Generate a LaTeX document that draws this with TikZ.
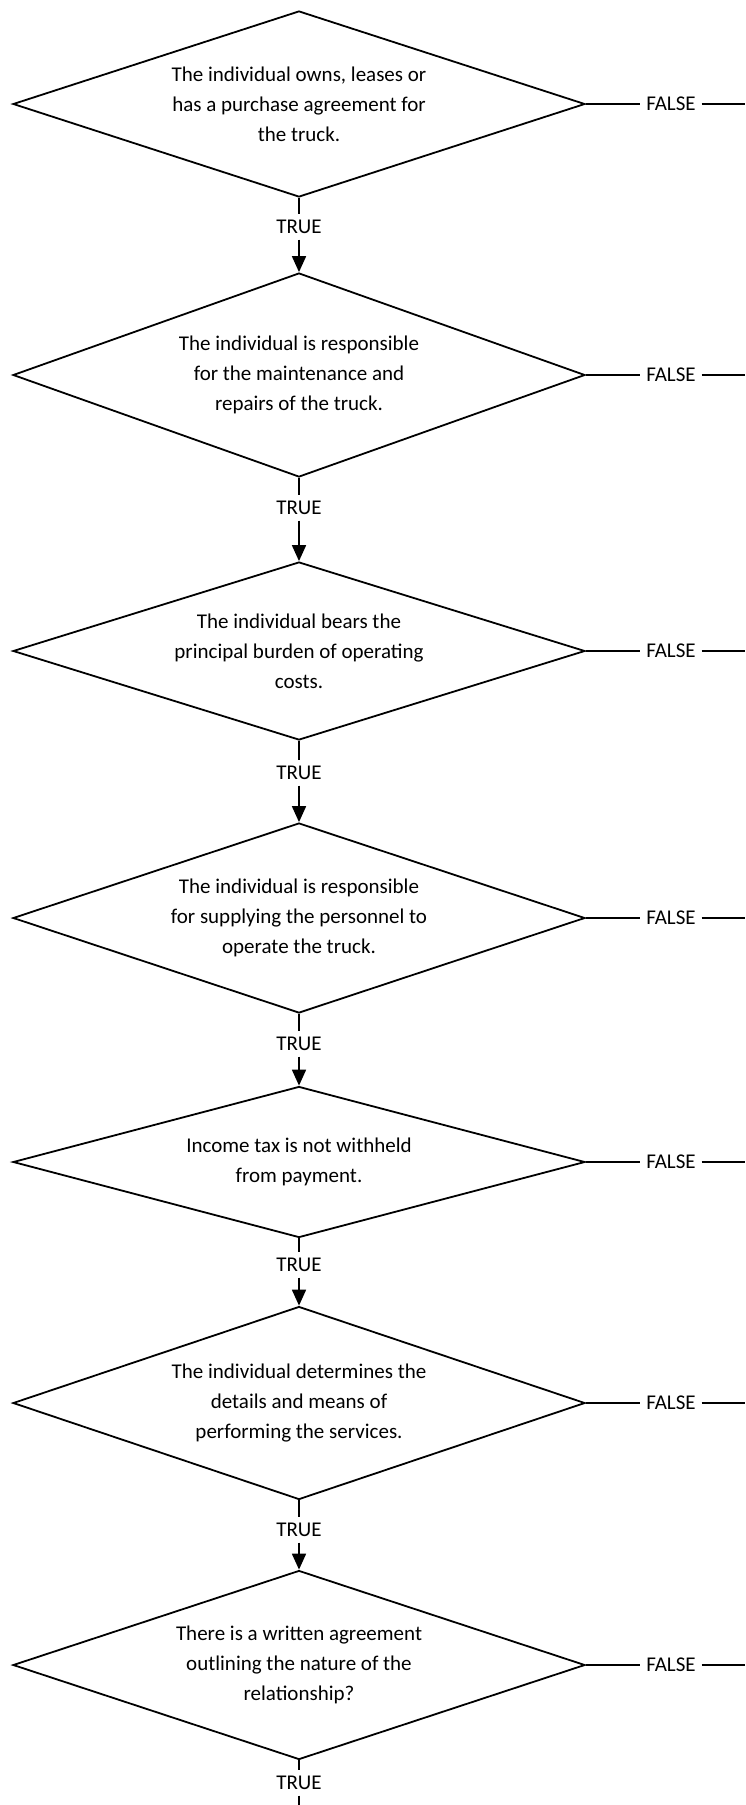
\documentclass[tikz,border=0pt]{standalone}
\usepackage{fontspec}
\setmainfont{Carlito}
\usetikzlibrary{shapes.geometric,arrows.meta}
\begin{document}
\begin{tikzpicture}[x=0.5pt,y=-0.5pt,line width=0.9pt,
        test/.style={diamond, draw, aspect=3, inner sep=0pt, minimum width=286pt, align=center, font=\fontsize{10.5}{15}\selectfont},
        answer/.style={inner sep=2.5pt, font=\fontsize{10.5}{15}\selectfont},
        yes/.style={-{Triangle[width=7pt,length=8pt]}}]
    \useasboundingbox (0,0) rectangle (745,1805);
    \node [test, minimum height=93pt] (q1) at (299,104) {The individual owns, leases or\\has a purchase agreement for\\the truck.};
    \node [test, minimum height=102pt] (q2) at (299,375) {The individual is responsible\\for the maintenance and\\repairs of the truck.};
    \node [test, minimum height=89pt] (q3) at (299,651) {The individual bears the\\principal burden of operating\\costs.};
    \node [test, minimum height=95pt] (q4) at (299,918) {The individual is responsible\\for supplying the personnel to\\operate the truck.};
    \node [test, minimum height=75.5pt] (q5) at (299,1162) {Income tax is not withheld\\from payment.};
    \node [test, minimum height=96.5pt] (q6) at (299,1403) {The individual determines the\\details and means of\\performing the services.};
    \node [test, minimum height=94.5pt] (q7) at (299,1665) {There is a written agreement\\outlining the nature of the\\relationship?};
    \node [answer] (t1) at (299,227) {TRUE};
    \node [answer] (t2) at (299,508) {TRUE};
    \node [answer] (t3) at (299,773) {TRUE};
    \node [answer] (t4) at (299,1044) {TRUE};
    \node [answer] (t5) at (299,1265) {TRUE};
    \node [answer] (t6) at (299,1530) {TRUE};
    \node [answer] (t7) at (299,1783) {TRUE};
    \coordinate (out) at (299,1805);
    \node [answer] (f1) at (671,104) {FALSE};
    \node [answer] (f2) at (671,375) {FALSE};
    \node [answer] (f3) at (671,651) {FALSE};
    \node [answer] (f4) at (671,918) {FALSE};
    \node [answer] (f5) at (671,1162) {FALSE};
    \node [answer] (f6) at (671,1403) {FALSE};
    \node [answer] (f7) at (671,1665) {FALSE};
    \coordinate (e1) at (745,104);
    \coordinate (e2) at (745,375);
    \coordinate (e3) at (745,651);
    \coordinate (e4) at (745,918);
    \coordinate (e5) at (745,1162);
    \coordinate (e6) at (745,1403);
    \coordinate (e7) at (745,1665);
    \draw (q1.south) -- (t1);
    \draw [yes] (t1) -- (q2.north);
    \draw (q2.south) -- (t2);
    \draw [yes] (t2) -- (q3.north);
    \draw (q3.south) -- (t3);
    \draw [yes] (t3) -- (q4.north);
    \draw (q4.south) -- (t4);
    \draw [yes] (t4) -- (q5.north);
    \draw (q5.south) -- (t5);
    \draw [yes] (t5) -- (q6.north);
    \draw (q6.south) -- (t6);
    \draw [yes] (t6) -- (q7.north);
    \draw (q7.south) -- (t7);
    \draw (t7) -- (out);
    \draw (q1.east) -- (f1) -- (e1);
    \draw (q2.east) -- (f2) -- (e2);
    \draw (q3.east) -- (f3) -- (e3);
    \draw (q4.east) -- (f4) -- (e4);
    \draw (q5.east) -- (f5) -- (e5);
    \draw (q6.east) -- (f6) -- (e6);
    \draw (q7.east) -- (f7) -- (e7);
\end{tikzpicture}
\end{document}
